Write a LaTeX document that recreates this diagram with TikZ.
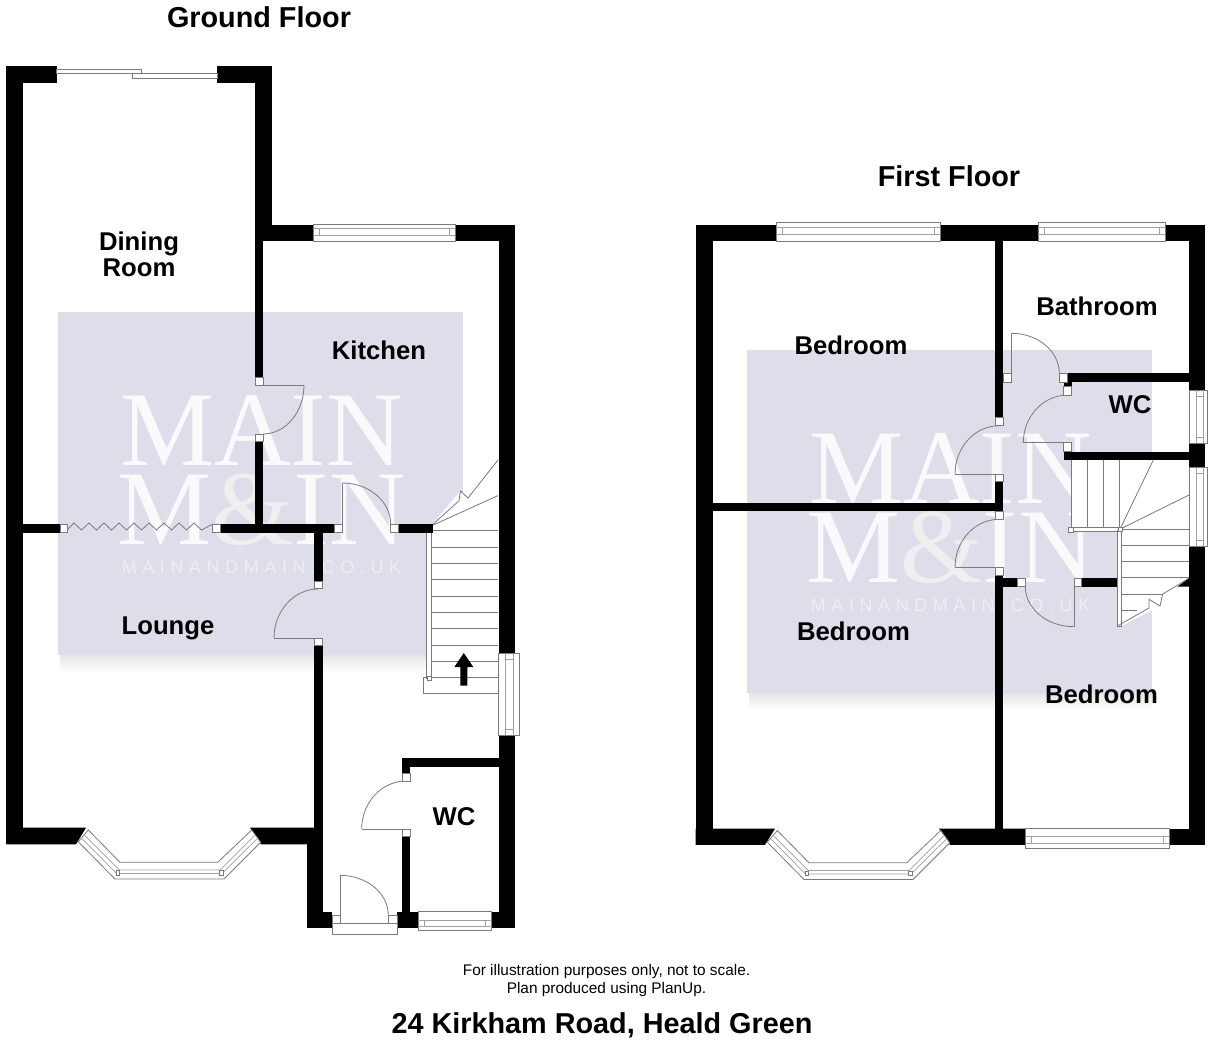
\documentclass[tikz,border=0pt]{standalone}
\usepackage{fontspec}
\usetikzlibrary{calc}
\setmainfont{Liberation Sans}
\newfontfamily\wmserif{Liberation Serif}
\newfontfamily\wmsans[LetterSpace=31]{Liberation Sans}
\definecolor{wmbg}{HTML}{DEDEEA}
\definecolor{wmtxt}{HTML}{FAFAFC}
\definecolor{wmamp}{HTML}{EFEFEF}
\definecolor{wmsmall}{HTML}{EEEEF4}
\definecolor{linegrey}{HTML}{7A7A7A}
\definecolor{paneline}{HTML}{A0A0A0}
\tikzset{
  wallfill/.style={fill=black,draw=none},
  fine/.style={draw=linegrey,line width=.4pt},
  pane/.style={draw=paneline,line width=.35pt},
  rail/.style={draw=linegrey,line width=.4pt,fill=white},
  jambbox/.style={draw=linegrey,line width=.35pt,fill=white},
  title/.style={inner sep=0pt,font=\fontsize{14.4}{16}\selectfont\bfseries},
  room/.style={inner sep=0pt,font=\fontsize{12.85}{14}\selectfont\bfseries},
  note/.style={inner sep=0pt,font=\fontsize{7.7}{9}\selectfont},
  address/.style={inner sep=0pt,font=\fontsize{14.4}{16}\selectfont\bfseries}
}
\newcommand{\wall}[4]{\fill[wallfill] (#1,#2) rectangle (#3,#4);}
\newcommand{\jamb}[4]{\draw[jambbox] (#1,#2) rectangle (#3,#4);}
% quarter arc: start, corner, end
\newcommand{\qarc}[3]{\draw[fine] (#1) .. controls ($(#1)!.55!(#2)$) and ($(#3)!.55!(#2)$) .. (#3);}
% horizontal window: x1 x2 ytop ybot strip1 strip2
\newcommand{\winH}[6]{%
  \draw[rail] (#1,#3) rectangle (#2,#4);
  \draw[pane] (#1,#5) -- (#2,#5) (#1,#6) -- (#2,#6);
  \draw[pane] ($(#1,#5)+(6,0)$) -- ($(#1,#6)+(6,0)$) ($(#2,#5)+(-6,0)$) -- ($(#2,#6)+(-6,0)$);
}
% vertical window: y1 y2 xleft xright strip1 strip2
\newcommand{\winV}[6]{%
  \draw[rail] (#3,#1) rectangle (#4,#2);
  \draw[pane] (#5,#1) -- (#5,#2) (#6,#1) -- (#6,#2);
  \draw[pane] ($(#5,#1)+(0,6)$) -- ($(#6,#1)+(0,6)$) ($(#5,#2)+(0,-6)$) -- ($(#6,#2)+(0,-6)$);
}
% bay window, drawn at the ground-floor position
\newcommand{\baywin}{%
  \draw[rail] (88.3,830) -- (120,862.3) -- (217.7,862.3) -- (251.7,830) -- (260.7,842.3) -- (224,879) -- (115,879) -- (78.3,841.7) -- cycle;
  \draw[pane] (81.7,838.3) -- (116.7,873.5) -- (222,873.5) -- (257.5,838.3);
  \draw[pane] (85,835.5) -- (119.3,870) -- (220,870) -- (254.5,835.5);
  \draw[jambbox] (116,870.5) rectangle (119.5,875);
  \draw[jambbox] (219.5,870.5) rectangle (223,875);
}
% watermark panel, drawn at the ground-floor position
\newcommand{\watermark}[1]{%
  \shade[top color=black!10,bottom color=white,draw=none] (60,655) rectangle (463,672);
  \fill[wmbg] (58,312) rectangle (463,655);
  \node[inner sep=0pt,text=wmtxt,font=\fontsize{53}{53}\selectfont\wmserif] (#1a) at (261.5,430.5) {MAIN};
  \node[inner sep=0pt,text=wmtxt,font=\fontsize{53}{53}\selectfont\wmserif] (#1b) at (261.5,510) {M\textcolor{wmamp}{\&}IN};
  \node[inner sep=0pt,text=wmsmall,font=\fontsize{9}{9}\selectfont\wmsans] (#1c) at (261.5,567.5) {MAINANDMAIN.CO.UK};
}
\begin{document}
\begin{tikzpicture}[x=.5pt,y=-.5pt]
\useasboundingbox (0,0) rectangle (1216,1040);
\fill[white] (0,0) rectangle (1216,1040);

% ---------- watermarks
\watermark{g}
\begin{scope}[shift={(689,38)}]
\watermark{f}
\end{scope}

% ---------- ground floor stairs
\fill[white] (431,526) -- (460.4,491) -- (468,498) -- (498,460) -- (498,693) -- (423.6,693) -- (423.6,678) -- (427,678) -- (427,530) -- cycle;
\foreach \ty in {530.4,547,563,579,596,612,628,645,661} {\draw[fine] (431,\ty) -- (498,\ty);}
\draw[rail] (423.6,677.5) rectangle (498,693);
\draw[rail] (426.8,530) rectangle (431,678);
\draw[jambbox] (427,676) rectangle (431.5,680.5);
\draw[jambbox] (427,528) rectangle (431.5,532.5);
\draw[fine] (431,526) -- (459,500.7) -- (460.4,491) -- (468,498) -- (498,460);
\draw[fine] (431,526) -- (498,495.6);
\fill[black] (460.4,685.5) -- (460.4,667) -- (454.3,667) -- (463.8,653) -- (473.3,667) -- (467.4,667) -- (467.4,685.5) -- cycle;

% ---------- first floor stairs
\fill[white] (1071,460) -- (1189,460) -- (1189,578) -- (1160,606) -- (1121.7,626) -- (1117.3,626) -- (1117.3,531.7) -- (1071,531.7) -- cycle;
\foreach \tx in {1071.3,1087.3,1103.7,1119.7} {\draw[fine] (\tx,460) -- (\tx,527);}
\foreach \ty in {529.3,545.3,561.7,577.3} {\draw[fine] (1121.7,\ty) -- (1189,\ty);}
\draw[fine] (1121.7,594) -- (1162.7,594);
\draw[fine] (1121.7,610) -- (1136.7,610);
\draw[fine] (1121,527) -- (1153.3,460);
\draw[fine] (1121.7,528.3) -- (1189,495);
\draw[rail] (1071,527.3) rectangle (1120,531.7);
\draw[rail] (1117.3,530) rectangle (1121.7,626);
\draw[fine] (1117.3,626) -- (1149,608) -- (1149,599.3) -- (1160,606) -- (1162.7,594) -- (1189,578.3);
\draw[jambbox] (1068.5,527) rectangle (1073.5,532);
\draw[jambbox] (1118,527) rectangle (1122,531.5);
\fill[black] (1177.3,586.7) -- (1189,578.3) -- (1190,586.7) -- cycle;

% ---------- door leaves and arcs, ground floor
\draw[fine] (318,638) -- (274,638);
\qarc{274,638}{274,589}{318,589}
\draw[fine] (263,385) -- (304,385);
\qarc{304,385}{304,434}{263,434}
\draw[fine] (342.7,524) -- (342.7,483);
\qarc{342.7,483}{390.6,483}{390.6,524}
\draw[fine] (402,829) -- (361.7,829);
\qarc{361.7,829}{361.7,781}{406,781}
\draw[fine] (340,923) -- (340,875.3);
\qarc{340,875.3}{388.3,875.3}{388.3,915}

% ---------- door leaves and arcs, first floor
\draw[fine] (1011.7,381) -- (1011.7,333.3);
\qarc{1011.7,333.3}{1059.3,333.3}{1059.3,373.3}
\draw[fine] (1067.7,442.7) -- (1023.3,442.7);
\qarc{1023.3,442.7}{1023.3,395}{1067.7,395}
\draw[fine] (999,474) -- (955,474);
\qarc{955,474}{955,425.7}{999,425.7}
\draw[fine] (999,567.3) -- (955,567.3);
\qarc{955,567.3}{955,519.3}{999,519.3}
\draw[fine] (1074,578.3) -- (1074,626.7);
\qarc{1074,626.7}{1025.3,626.7}{1025.3,586.7}

% ---------- zigzag folding door
\draw[fine] (67,530) -- ++(7,-7) -- ++(7.5,7)
  -- ++(7.5,-7) -- ++(7.5,7) -- ++(7.5,-7) -- ++(7.5,7) -- ++(7.5,-7) -- ++(7.5,7)
  -- ++(7.5,-7) -- ++(7.5,7) -- ++(7.5,-7) -- ++(7.5,7) -- ++(7.5,-7) -- ++(7.5,7)
  -- ++(7.5,-7) -- ++(7.5,7) -- ++(7.5,-7) -- ++(7.5,7) -- (212.8,524);

% ---------- ground floor walls
\wall{6.4}{65.5}{22.6}{844.3}
\wall{6.4}{65.5}{56.7}{82.7}
\wall{217}{65.5}{271.5}{82.7}
\wall{254.6}{65.5}{271.5}{241}
\wall{254.6}{225}{313}{241}
\wall{455}{225}{515}{241}
\wall{498.5}{225}{515}{655}
\wall{498.5}{735}{515}{928}
\wall{255}{241}{263.2}{377.3}
\wall{255}{441.7}{263.2}{525}
\wall{22}{524.3}{60}{532.8}
\wall{220}{524.3}{334.6}{532.8}
\wall{398}{524.3}{433.4}{532.8}
\wall{314.3}{532}{322.7}{581}
\wall{314.3}{645.6}{322.7}{928}
\fill[wallfill] (6.4,827.7) -- (86,827.7) -- (76,844.3) -- (6.4,844.3) -- cycle;
\fill[wallfill] (250,827.7) -- (322,827.7) -- (322,844.3) -- (261,844.3) -- cycle;
\wall{306.7}{844}{322.7}{928}
\wall{306.7}{911.7}{332.3}{928}
\wall{397}{911.7}{418.3}{928}
\wall{491.7}{911.7}{515}{928}
\wall{402.3}{758.3}{410.3}{773}
\wall{402.3}{836.7}{410.3}{927}
\wall{402.3}{758.3}{500}{766.7}

% ---------- ground floor jambs
\jamb{60}{524.3}{67}{532.8}
\jamb{212.8}{524.3}{220}{532.8}
\jamb{334.6}{524.3}{342.6}{532.8}
\jamb{390.6}{524.3}{398}{532.8}
\jamb{314.3}{581}{322.7}{588.6}
\jamb{314.3}{638}{322.7}{645.6}
\jamb{255}{377.3}{263.2}{385}
\jamb{255}{434}{263.2}{441.7}
\jamb{402.3}{773}{410.3}{781}
\jamb{402.3}{829}{410.3}{836.7}
\jamb{332.3}{915}{340}{923.3}
\jamb{388.3}{915}{397}{923.3}
\draw[rail] (332.3,923.3) rectangle (397.3,934.3);

% ---------- ground floor windows
\draw[rail] (56.7,69.6) rectangle (141,73.6);
\draw[rail] (132.5,73.6) rectangle (217,78.3);
\winH{313}{455}{224}{241}{228.5}{235}
\winH{418.3}{491.7}{911.7}{930}{920}{926.7}
\winV{653}{735}{498.5}{519}{505.5}{513.5}
\baywin

% ---------- first floor walls
\wall{695.7}{225}{712.5}{844.5}
\wall{695.7}{225}{776}{241}
\wall{940}{225}{1038}{241}
\wall{1165}{225}{1205.3}{241}
\wall{1189}{225}{1205.3}{390}
\wall{1189}{443.3}{1205.3}{467.3}
\wall{1189}{546.7}{1205.3}{844.5}
\wall{995.2}{225}{1003.4}{417.7}
\wall{995.2}{481.7}{1003.4}{511}
\wall{995.2}{575.7}{1003.4}{844.5}
\wall{712}{502.7}{995.5}{510.7}
\wall{1067.7}{373.3}{1189.5}{382.3}
\wall{1063.7}{382}{1071.7}{386.7}
\wall{1063.7}{451.7}{1189.5}{460}
\wall{1003}{578.3}{1017.3}{586.7}
\wall{1081.7}{578.3}{1117.3}{586.7}
\fill[wallfill] (695.7,828.7) -- (775,828.7) -- (765,844.8) -- (695.7,844.8) -- cycle;
\fill[wallfill] (939,828.7) -- (1025.6,828.7) -- (1025.6,844.8) -- (950,844.8) -- cycle;
\wall{1169}{828.7}{1205.3}{844.8}

% ---------- first floor jambs
\jamb{995.2}{417.7}{1003.4}{425.7}
\jamb{995.2}{474}{1003.4}{481.7}
\jamb{995.2}{511}{1003.4}{519.3}
\jamb{995.2}{567.3}{1003.4}{575.7}
\jamb{1003.4}{373.3}{1011.7}{382.3}
\jamb{1059.3}{373.3}{1067.7}{382.3}
\jamb{1063.7}{386.7}{1071.7}{395}
\jamb{1063.7}{442.7}{1071.7}{451.7}
\jamb{1017.3}{578.3}{1025.3}{586.7}
\jamb{1074}{578.3}{1081.7}{586.7}

% ---------- first floor windows
\winH{776}{940}{222.5}{241}{227}{234}
\winH{1038}{1165}{222.5}{241}{227}{234}
\winH{1025.6}{1169}{828.7}{848}{836.4}{843.8}
\winV{390}{443.3}{1189}{1207.7}{1196.7}{1203.3}
\winV{467.3}{546.7}{1189}{1207.7}{1196.7}{1203.3}
\begin{scope}[shift={(689,0.5)}]
\baywin
\end{scope}

% ---------- labels
\node[title] (gtitle) at (259,17) {Ground Floor};
\node[title] (ftitle) at (949,176) {First Floor};
\node[room] (dining) at (139,243.5) {Dining};
\node[room] (diningb) at (139,267.5) {Room};
\node[room] (kitchen) at (379,350) {Kitchen};
\node[room] (lounge) at (168,628.5) {Lounge};
\node[room] (wcg) at (454,817) {WC};
\node[room] (bed1) at (851,345.5) {Bedroom};
\node[room] (bath) at (1097,306.5) {Bathroom};
\node[room] (wcf) at (1130,404.5) {WC};
\node[room] (bed2) at (853.5,631.5) {Bedroom};
\node[room] (bed3) at (1101.5,694.5) {Bedroom};
\node[note] (n1) at (606.5,972) {For illustration purposes only, not to scale.};
\node[note] (n2) at (606.5,990) {Plan produced using PlanUp.};
\node[address] (addr) at (602,1025) {24 Kirkham Road, Heald Green};
\end{tikzpicture}
\end{document}
